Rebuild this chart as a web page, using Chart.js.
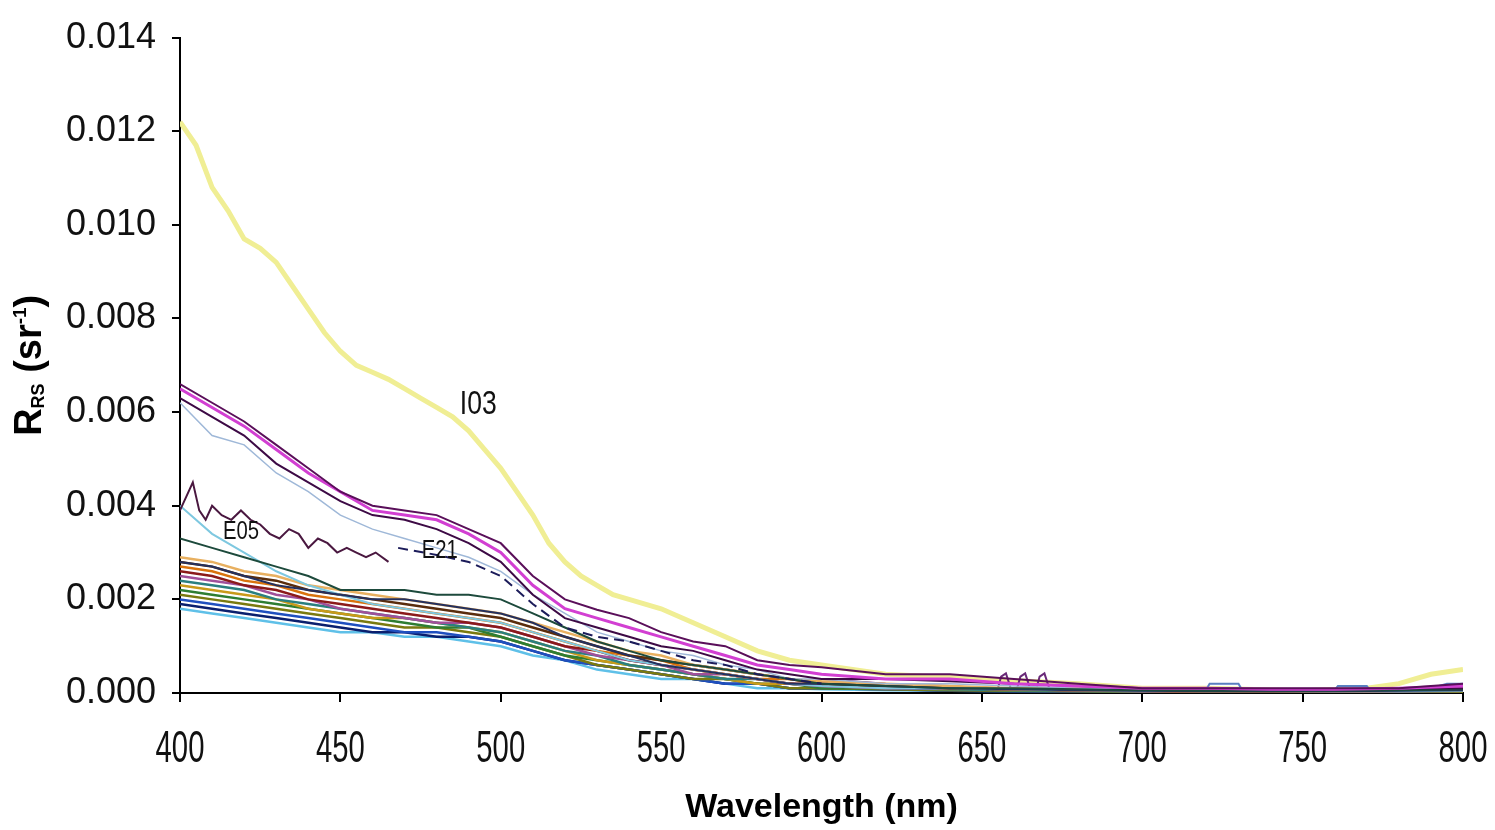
<!DOCTYPE html>
<html>
<head>
<meta charset="utf-8">
<title>Remote sensing reflectance spectra</title>
<script src="https://cdn.jsdelivr.net/npm/chart.js@4.4.1/dist/chart.umd.min.js"></script>
<style>
  html, body { margin: 0; padding: 0; background: #fff; }
  #wrap { width: 1495px; height: 830px; }
</style>
</head>
<body>
<div id="wrap"><canvas id="rrsChart" width="1495" height="830"></canvas></div>
<script>
// shared wavelength grid (nm) for most stations
const wavelengths = [400, 410, 420, 430, 440, 450, 460, 470, 480, 490, 500, 510, 520, 530, 540, 550,
  560, 570, 580, 590, 600, 620, 640, 660, 680, 700, 720, 740, 760, 780, 800];

// I03 - the brightest station, sampled finer
const i03Wl = [400, 405, 410, 415, 420, 425, 430, 435, 440, 445, 450, 455, 460, 465, 470, 475, 480, 485,
  490, 495, 500, 505, 510, 515, 520, 525, 530, 535, 540, 550, 560, 570, 580, 590, 600, 620, 650, 680,
  700, 720, 750, 770, 780, 790, 800];
const i03 = [0.0122, 0.0117, 0.0108, 0.0103, 0.0097, 0.0095, 0.0092, 0.0087, 0.0082, 0.0077, 0.0073,
  0.0070, 0.00685, 0.0067, 0.0065, 0.0063, 0.0061, 0.0059, 0.0056, 0.0052, 0.0048, 0.0043, 0.0038,
  0.0032, 0.0028, 0.0025, 0.0023, 0.0021, 0.0020, 0.0018, 0.0015, 0.0012, 0.0009, 0.0007, 0.0006,
  0.0004, 0.0003, 0.0002, 0.0001, 0.0001, 0.00005, 0.0001, 0.0002, 0.0004, 0.0005];

// E05 - noisy blue end, then the dashed continuation
const e05Wl = [400, 402, 404, 406, 408, 410, 413, 416, 419, 422, 425, 428, 431, 434, 437, 440, 443, 446,
  449, 452, 455, 458, 461, 465];
const e05 = [0.0039, 0.0042, 0.0045, 0.0039, 0.0037, 0.0040, 0.0038, 0.0037, 0.0039, 0.0037, 0.0036,
  0.0034, 0.0033, 0.0035, 0.0034, 0.0031, 0.0033, 0.0032, 0.0030, 0.0031, 0.0030, 0.0029, 0.0030, 0.0028];
const dashWl = [468, 480, 490, 500, 510, 520, 530, 540, 550, 560, 570, 580, 590, 600];
const dashed = [0.0031, 0.00295, 0.0028, 0.0025, 0.0019, 0.0014, 0.0012, 0.0011, 0.0009, 0.0007,
  0.0006, 0.0004, 0.0003, 0.0002];

// upper purple group
const purpleTop = [0.0066, 0.0062, 0.0058, 0.0053, 0.0048, 0.0043, 0.0040, 0.0039, 0.0038, 0.0035, 0.0032,
  0.0025, 0.0020, 0.00178, 0.0016, 0.0013, 0.0011, 0.0010, 0.0007, 0.0006, 0.00055,
  0.0004, 0.0004, 0.0003, 0.0002, 0.0001, 0.0001, 0.0001, 0.0001, 0.0001, 0.0002];
const magenta = [0.0065, 0.0061, 0.0057, 0.0052, 0.0047, 0.0043, 0.0039, 0.0038, 0.0037, 0.0034, 0.0030,
  0.0023, 0.0018, 0.0016, 0.0014, 0.0012, 0.0010, 0.0008, 0.0006, 0.0005, 0.0004,
  0.0003, 0.0003, 0.0002, 0.00015, 0.0001, 0.0001, 0.00008, 0.00008, 0.0001, 0.00015];
const purpleLow = [0.0063, 0.0059, 0.0055, 0.0049, 0.0045, 0.0041, 0.0038, 0.0037, 0.0035, 0.0032, 0.0028,
  0.0021, 0.0016, 0.0014, 0.0012, 0.0010, 0.0009, 0.0007, 0.0005, 0.0004, 0.0003,
  0.0003, 0.00025, 0.0002, 0.00015, 0.0001, 0.0001, 0.00008, 0.00008, 0.0001, 0.0001];
const paleBlue = [0.0062, 0.0055, 0.0053, 0.0047, 0.0043, 0.0038, 0.0035, 0.0033, 0.0031, 0.0029, 0.0026,
  0.0021, 0.0017, 0.0013, 0.0011, 0.0009, 0.0008, 0.0006, 0.0005, 0.0003, 0.0003,
  0.0002, 0.0002, 0.00015, 0.0001, 0.0001, 0.00008, 0.00006, 0.00006, 0.00008, 0.0001];

// middle stations
const e21 = [0.0033, 0.0031, 0.0029, 0.0027, 0.0025, 0.0022, 0.0022, 0.0022, 0.0021, 0.0021, 0.0020,
  0.0017, 0.0014, 0.0011, 0.0009, 0.0007, 0.0006, 0.0005, 0.0004, 0.0003, 0.0002,
  0.00015, 0.0001, 0.0001, 0.00008, 0.00006, 0.00005, 0.00005, 0.00005, 0.00006, 0.00008];
const navyMid = [0.0028, 0.0027, 0.0025, 0.0023, 0.0022, 0.0021, 0.0020, 0.0020, 0.0019, 0.0018, 0.0017,
  0.0015, 0.0012, 0.0010, 0.0008, 0.0006, 0.0005, 0.0004, 0.0003, 0.0002, 0.0002,
  0.00015, 0.0001, 0.00008, 0.00006, 0.00005, 0.00004, 0.00004, 0.00004, 0.00005, 0.00006];
const cyanHigh = [0.0040, 0.0034, 0.0030, 0.0026, 0.0023, 0.0021, 0.0019, 0.0018, 0.0017, 0.0016, 0.0015,
  0.0013, 0.0011, 0.0009, 0.0007, 0.0006, 0.0005, 0.0004, 0.0003, 0.0002, 0.00015,
  0.0001, 0.0001, 0.00008, 0.00006, 0.00005, 0.00004, 0.00004, 0.00003, 0.00004, 0.00005];

// the low-reflectance cluster
const c1 = [0.0029, 0.0028, 0.0026, 0.0025, 0.0023, 0.0022, 0.0021, 0.0020, 0.0019, 0.0018, 0.0017,
  0.0015, 0.0013, 0.0011, 0.0009, 0.0008, 0.0006, 0.0005, 0.0004, 0.0003, 0.00025,
  0.0002, 0.00015, 0.0001, 0.0001, 0.00008, 0.00008, 0.00005, 0.00005, 0.00008, 0.0001];
const c2 = [0.0028, 0.0027, 0.0025, 0.0024, 0.0022, 0.0021, 0.0020, 0.0019, 0.0018, 0.0017, 0.0016,
  0.0014, 0.0012, 0.0010, 0.0008, 0.0007, 0.0006, 0.0005, 0.0004, 0.0003, 0.0002,
  0.00015, 0.0001, 0.0001, 0.00008, 0.00005, 0.00005, 0.00004, 0.00005, 0.00006, 0.00008];
const c3 = [0.0027, 0.0026, 0.0024, 0.0023, 0.0021, 0.0020, 0.0019, 0.0018, 0.0017, 0.0016, 0.0015,
  0.0013, 0.0011, 0.0009, 0.0008, 0.0007, 0.0005, 0.0004, 0.0003, 0.0003, 0.0002,
  0.00015, 0.0001, 0.00008, 0.00006, 0.00005, 0.00004, 0.00003, 0.00004, 0.00005, 0.00006];
const c4 = [0.0026, 0.0025, 0.0023, 0.0022, 0.0020, 0.0019, 0.0018, 0.0017, 0.0016, 0.0015, 0.0014,
  0.0012, 0.0010, 0.0009, 0.0007, 0.0006, 0.0005, 0.0004, 0.0003, 0.0002, 0.0002,
  0.00015, 0.0001, 0.00008, 0.00006, 0.00005, 0.00004, 0.00004, 0.00003, 0.00005, 0.00006];
const c5 = [0.0025, 0.0024, 0.0023, 0.0021, 0.0020, 0.0018, 0.0017, 0.0016, 0.0015, 0.0015, 0.0014,
  0.0012, 0.0010, 0.0008, 0.0007, 0.0006, 0.0004, 0.0004, 0.0003, 0.0002, 0.00015,
  0.0001, 0.0001, 0.00008, 0.00006, 0.00004, 0.00004, 0.00003, 0.00003, 0.00004, 0.00005];
const c6 = [0.0024, 0.0023, 0.0022, 0.0020, 0.0019, 0.0018, 0.0017, 0.0016, 0.0015, 0.0014, 0.0013,
  0.0011, 0.0009, 0.0008, 0.0006, 0.0005, 0.0004, 0.0003, 0.0003, 0.0002, 0.00015,
  0.0001, 0.00008, 0.00006, 0.00005, 0.00004, 0.00003, 0.00003, 0.00003, 0.00004, 0.00005];
const c7 = [0.0023, 0.0022, 0.0021, 0.0020, 0.0018, 0.0017, 0.0016, 0.0016, 0.0015, 0.0014, 0.0013,
  0.0011, 0.0009, 0.0007, 0.0006, 0.0005, 0.0004, 0.0003, 0.0002, 0.0002, 0.00015,
  0.0001, 0.00008, 0.00006, 0.00005, 0.00004, 0.00003, 0.00003, 0.00003, 0.00004, 0.00004];
const c8 = [0.0022, 0.0021, 0.0020, 0.0019, 0.0018, 0.0017, 0.0016, 0.0015, 0.0014, 0.0014, 0.0012,
  0.0010, 0.0008, 0.0007, 0.0006, 0.0005, 0.0004, 0.0003, 0.0002, 0.0002, 0.0001,
  0.0001, 0.00008, 0.00006, 0.00005, 0.00004, 0.00003, 0.00003, 0.00003, 0.00003, 0.00004];
const c9 = [0.0021, 0.0020, 0.0019, 0.0018, 0.0017, 0.0016, 0.0015, 0.0014, 0.0014, 0.0013, 0.0012,
  0.0010, 0.0008, 0.0006, 0.0005, 0.0004, 0.0003, 0.0003, 0.0002, 0.0001, 0.0001,
  0.00008, 0.00006, 0.00005, 0.00004, 0.00003, 0.00003, 0.00002, 0.00002, 0.00003, 0.00004];
const c10 = [0.0020, 0.0019, 0.0018, 0.0017, 0.0016, 0.0015, 0.0014, 0.0013, 0.0013, 0.0012, 0.0011,
  0.0009, 0.0007, 0.0006, 0.0005, 0.0004, 0.0003, 0.0002, 0.0002, 0.0001, 0.0001,
  0.00008, 0.00006, 0.00005, 0.00004, 0.00003, 0.00003, 0.00002, 0.00002, 0.00003, 0.00003];
const c11 = [0.0019, 0.0018, 0.0017, 0.0016, 0.0015, 0.0014, 0.0013, 0.0013, 0.0012, 0.0012, 0.0011,
  0.0009, 0.0007, 0.0006, 0.0005, 0.0004, 0.0003, 0.0002, 0.0002, 0.0001, 0.0001,
  0.00008, 0.00005, 0.00004, 0.00003, 0.00003, 0.00002, 0.00002, 0.00002, 0.00002, 0.00003];
const c12 = [0.0018, 0.0017, 0.0016, 0.0015, 0.0014, 0.0013, 0.0013, 0.0012, 0.0012, 0.0011, 0.0010,
  0.0008, 0.0007, 0.0005, 0.0004, 0.0003, 0.0003, 0.0002, 0.0001, 0.0001, 0.00008,
  0.00006, 0.00005, 0.00004, 0.00003, 0.00002, 0.00002, 0.00002, 0.00002, 0.00002, 0.00003];

// red-end features
const bumpWl = [600, 620, 640, 650, 655, 656, 657.5, 659, 661, 662, 663.5, 665, 667, 668, 669.5, 671, 673,
  680, 700, 720, 740, 760, 780, 800];
const bump = [0.0003, 0.0002, 0.00015, 0.0001, 0.0001, 0.00035, 0.00042, 0.0001, 0.0001, 0.00035,
  0.00042, 0.0001, 0.0001, 0.00035, 0.00042, 0.0001, 0.0001, 0.00008, 0.00005, 0.00004, 0.00003,
  0.00004, 0.00008, 0.00015];
const tailWl = [700, 715, 720, 721, 730, 731, 740, 750, 755, 760, 761, 770, 771, 780, 790, 795, 800];
const tail = [0.00005, 0.00005, 0.00008, 0.0002, 0.0002, 0.00008, 0.00003, 0.00001, 0.00003, 0.00006,
  0.00015, 0.00015, 0.00006, 0.00005, 0.0001, 0.0002, 0.0002];

// station labels written on the plot
const labelNames = ['I03', 'E05', 'E21'];
const labelWl = [493, 419, 481];
const labelRrs = [0.00615, 0.00345, 0.00303];

const sans = "'Liberation Sans', Arial, sans-serif";

function line(xs, ys, color, width, dash) {
  return {
    data: xs.map((w, i) => ({ x: w, y: ys[i] })),
    borderColor: color,
    borderWidth: width || 2,
    borderDash: dash || [],
    pointRadius: 0,
    fill: false
  };
}

const datasets = [
  line(wavelengths, purpleTop, '#5a0f5a', 2),
  line(wavelengths, magenta, '#d23fd2', 3),
  line(wavelengths, purpleLow, '#3d0a45', 2),
  line(e05Wl, e05, '#4a1840', 2),
  line(dashWl, dashed, '#1c1c5a', 2, [10, 6]),
  line(wavelengths, e21, '#1d4a3c', 2),
  line(wavelengths, navyMid, '#24305e', 2),
  line(wavelengths, paleBlue, '#9fb8d8', 1.5),
  line(wavelengths, cyanHigh, '#7ec8e0', 2),
  line(wavelengths, c1, '#e8b060', 2.5),
  line(wavelengths, c2, '#5a2d0c', 2.5),
  line(wavelengths, c3, '#d9730d', 2.5),
  line(wavelengths, c4, '#8b1a1a', 2.5),
  line(wavelengths, c5, '#a0509a', 2.5),
  line(wavelengths, c6, '#2a7f7f', 2.5),
  line(wavelengths, c7, '#c99a1a', 2.5),
  line(wavelengths, c8, '#2e7d32', 2.5),
  line(wavelengths, c9, '#7a7a10', 2.5),
  line(wavelengths, c10, '#1f4fbf', 2.5),
  line(wavelengths, c11, '#0a1f6e', 2.5),
  line(wavelengths, c12, '#5fc0e8', 2.5),
  line(bumpWl, bump, '#6a2a78', 2),
  line(tailWl, tail, '#5a7fc0', 2),
  line(i03Wl, i03, '#f0ee94', 5)
];

// draw text squeezed horizontally, the way the plot's fonts look
function squeezed(ctx, text, x, y, font, sx) {
  ctx.save();
  ctx.font = font;
  ctx.translate(x, y);
  ctx.scale(sx, 1);
  ctx.fillText(text, 0, 0);
  ctx.restore();
}

// x tick labels, drawn in a condensed face
const xTickLabels = {
  id: 'xTickLabels',
  afterDraw(chart) {
    const { ctx, chartArea, scales: { x } } = chart;
    ctx.save();
    ctx.fillStyle = '#111';
    ctx.textAlign = 'center';
    ctx.textBaseline = 'middle';
    x.ticks.forEach(t => {
      squeezed(ctx, String(t.value), x.getPixelForValue(t.value), chartArea.bottom + 57, '45px ' + sans, 0.65);
    });
    ctx.restore();
  }
};

// station names next to their spectra
const stationLabels = {
  id: 'stationLabels',
  afterDatasetsDraw(chart) {
    const { ctx, scales: { x, y } } = chart;
    ctx.save();
    ctx.fillStyle = '#111';
    ctx.textAlign = 'center';
    ctx.textBaseline = 'middle';
    labelNames.forEach((name, i) => {
      const font = (i === 0 ? '34px ' : '26px ') + sans;
      squeezed(ctx, name, x.getPixelForValue(labelWl[i]), y.getPixelForValue(labelRrs[i]), font, 0.78);
    });
    ctx.restore();
  }
};

// rotated y title with subscript RS and superscript -1
const rrsTitle = {
  id: 'rrsTitle',
  afterDraw(chart) {
    const { ctx, chartArea } = chart;
    const parts = [
      { t: 'R', size: 38, dy: 0 },
      { t: 'RS', size: 18, dy: 8 },
      { t: ' (sr', size: 38, dy: 0 },
      { t: '-1', size: 19, dy: -10 },
      { t: ')', size: 38, dy: 0 }
    ];
    ctx.save();
    ctx.translate(31, (chartArea.top + chartArea.bottom) / 2);
    ctx.rotate(-Math.PI / 2);
    ctx.fillStyle = '#000';
    ctx.textBaseline = 'middle';
    let total = 0;
    parts.forEach(p => {
      ctx.font = 'bold ' + p.size + 'px ' + sans;
      p.w = ctx.measureText(p.t).width;
      total += p.w;
    });
    let cx = -total / 2;
    parts.forEach(p => {
      ctx.font = 'bold ' + p.size + 'px ' + sans;
      ctx.fillText(p.t, cx, p.dy);
      cx += p.w;
    });
    ctx.restore();
  }
};

new Chart(document.getElementById('rrsChart'), {
  type: 'line',
  data: { datasets: datasets },
  plugins: [stationLabels, xTickLabels, rrsTitle],
  options: {
    responsive: false,
    animation: false,
    layout: { padding: { top: 33, right: 32, left: 0, bottom: 0 } },
    plugins: { legend: { display: false }, tooltip: { enabled: false } },
    elements: { line: { tension: 0 } },
    scales: {
      x: {
        type: 'linear',
        min: 400,
        max: 800,
        ticks: { stepSize: 50, display: false },
        grid: { drawOnChartArea: false, color: '#000', lineWidth: 2, tickLength: 9 },
        border: { color: '#000', width: 2 },
        title: {
          display: true,
          text: 'Wavelength (nm)',
          color: '#000',
          font: { family: sans, size: 34, weight: 'bold' },
          padding: { top: 0, bottom: 2 }
        },
        afterFit: s => { s.height = 137; }
      },
      y: {
        min: 0,
        max: 0.014,
        ticks: {
          stepSize: 0.002,
          padding: 16,
          color: '#111',
          font: { family: sans, size: 36 },
          callback: v => v.toFixed(3)
        },
        grid: { drawOnChartArea: false, color: '#000', lineWidth: 2, tickLength: 8 },
        border: { color: '#000', width: 2 },
        afterFit: s => { s.width = 180; }
      }
    }
  }
});
</script>
</body>
</html>
